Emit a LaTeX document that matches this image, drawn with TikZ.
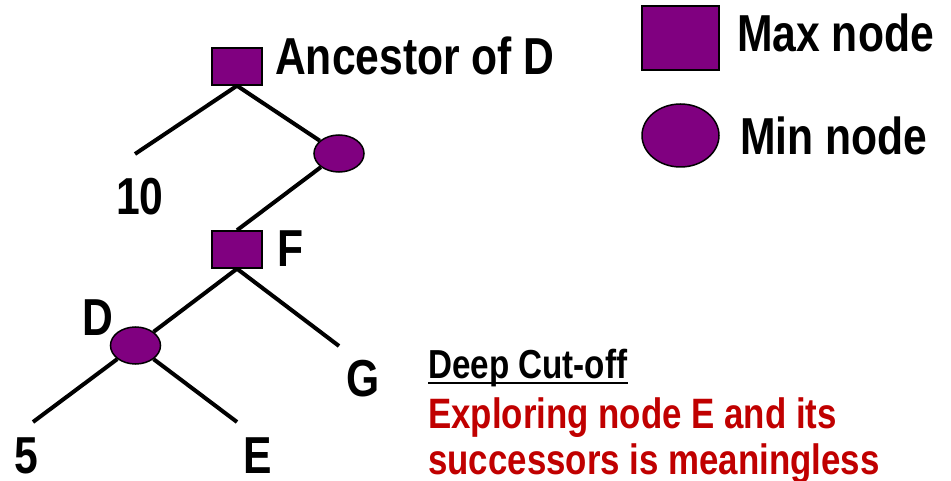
\documentclass[tikz,border=0pt]{standalone}
\usepackage{fontspec}
\setmainfont{Liberation Sans}[FakeStretch=0.82]
\usetikzlibrary{shapes.geometric}
\definecolor{nodepurple}{HTML}{800080}
\definecolor{cutred}{HTML}{C00000}
\tikzset{
maxnode/.style={rectangle,draw=black,line width=1.5pt,fill=nodepurple,minimum width=50pt,minimum height=37pt,inner sep=0pt},
minnode/.style={ellipse,draw=black,line width=1.5pt,fill=nodepurple,minimum width=50pt,minimum height=37pt,inner sep=0pt},
treeedge/.style={line width=4pt},
biglabel/.style={inner sep=0pt,font=\fontsize{52}{52}\selectfont\bfseries},
smalllabel/.style={inner sep=0pt,font=\fontsize{40.5}{48}\selectfont\bfseries},
notelabel/.style={inner sep=0pt,text=cutred,font=\fontsize{42.5}{48}\selectfont\bfseries}
}
\begin{document}
\begin{tikzpicture}[x=1pt,y=-1pt]
\useasboundingbox (0,0) rectangle (951,481);
% tree
\node[maxnode] (anc) at (237,66.5) {};
\node[minnode] (minA) at (339,153.5) {};
\node[maxnode] (F) at (237,249.5) {};
\node[minnode] (D) at (135.5,345.5) {};
\coordinate (leafTen) at (135,154);
\coordinate (leafG) at (339,346);
\coordinate (leafFive) at (33,422);
\coordinate (leafE) at (237,422);
\draw [treeedge] (anc.south)-- (leafTen);
\draw [treeedge] (anc.south)-- (minA);
\draw [treeedge] (minA)-- (F.north);
\draw [treeedge] (F.south)-- (D);
\draw [treeedge] (F.south)-- (leafG);
\draw [treeedge] (D)-- (leafFive);
\draw [treeedge] (D)-- (leafE);
\node[biglabel,anchor=base west] (ancText) at (275,75) {Ancestor of D};
\node[biglabel,anchor=base] (tenText) at (140,215) {10};
\node[biglabel,anchor=base west] (fText) at (277,267) {F};
\node[biglabel,anchor=base] (dText) at (98,335) {D};
\node[biglabel,anchor=base] (gText) at (363,396) {G};
\node[biglabel,anchor=base] (fiveText) at (26,473) {5};
\node[biglabel,anchor=base] (eText) at (258,473) {E};
% legend
\node[maxnode,minimum width=77pt,minimum height=64pt] (maxKey) at (680.5,38) {};
\node[minnode,minimum width=77pt,minimum height=63pt] (minKey) at (680.5,135.5) {};
\node[biglabel,anchor=base west] (maxText) at (737,52) {Max node};
\node[biglabel,anchor=base west] (minText) at (740,155) {Min node};
% note
\node[smalllabel,anchor=base west] (cut) at (428,378) {Deep Cut-off};
\draw [line width=2.5pt] ([yshift=-5pt]cut.base west)-- ([yshift=-5pt]cut.base east);
\node[notelabel,anchor=base west] (noteA) at (428,428) {Exploring node E and its};
\node[notelabel,anchor=base west] (noteB) at (428,474) {successors is meaningless};
\end{tikzpicture}
\end{document}
